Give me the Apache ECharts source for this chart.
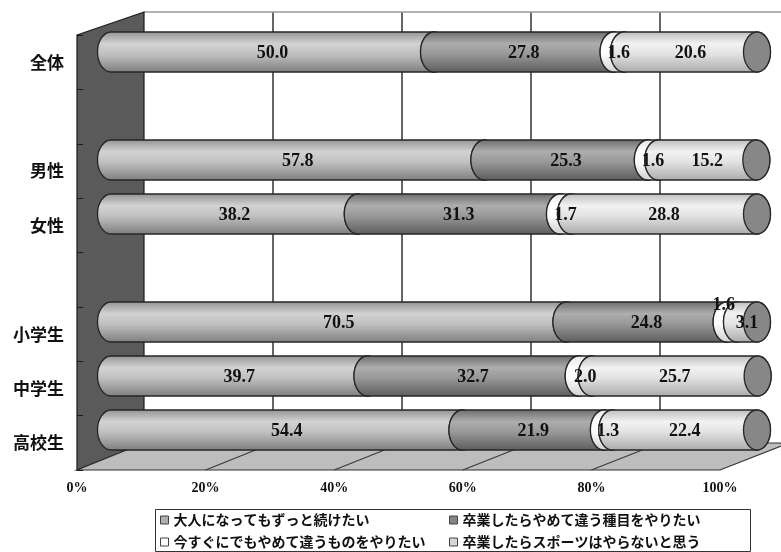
<!DOCTYPE html>
<html>
<head>
<meta charset="utf-8">
<script src="https://cdn.jsdelivr.net/npm/echarts@6/dist/echarts.min.js"></script>
<style>
  html, body { margin: 0; padding: 0; background: #ffffff; }
  #chart { width: 781px; height: 552px; }
</style>
</head>
<body>
<div id="chart"></div>
<script>
// Rows (two blank rows separate the groups)
const categories = ['全体', '', '男性', '女性', ' ', '小学生', '中学生', '高校生'];
const seriesNames = [
  '大人になってもずっと続けたい',
  '卒業したらやめて違う種目をやりたい',
  '今すぐにでもやめて違うものをやりたい',
  '卒業したらスポーツはやらないと思う'
];
// Percentages per row
const keepPlaying = [50.0, null, 57.8, 38.2, null, 70.5, 39.7, 54.4];
const switchSport = [27.8, null, 25.3, 31.3, null, 24.8, 32.7, 21.9];
const quitNow     = [1.6,  null, 1.6,  1.7,  null, 1.6,  2.0,  1.3];
const noSports    = [20.6, null, 15.2, 28.8, null, 3.1,  25.7, 22.4];
const tickStep = 20;

const W = 781, H = 552;
// Front plane (labels, floor front edge), back wall plane, and the plane the cylinders sit in
const FRONT = { left: 77, right: 720, top: 35, bottom: 470 };
const BACK  = { left: 144, right: 789, top: 12, bottom: 443 };
const BAR   = { left: 111, right: 757, top: 25, bottom: 457 };

const allSeries = [keepPlaying, switchSport, quitNow, noSports];
const shades = [
  { base: '#adadad', stops: ['#929292', '#d2d2d2', '#c0c0c0', '#7e7e7e'] },
  { base: '#858585', stops: ['#6c6c6c', '#adadad', '#989898', '#5c5c5c'] },
  { base: '#ffffff', stops: ['#e6e6e6', '#ffffff', '#fbfbfb', '#d0d0d0'] },
  { base: '#d6d6d6', stops: ['#bcbcbc', '#f2f2f2', '#e2e2e2', '#aaaaaa'] }
];
const capColor = '#878787';
const edge = '#262626';

function cylinderRenderer(shade) {
  return function (params, api) {
    const cat = api.value(0);
    const start = api.value(1);
    const len = api.value(2);
    const next = api.value(3);
    const a = api.coord([start, cat]);
    const b = api.coord([start + len, cat]);
    const ry = 20, rx = 13.5;
    const cy = a[1], x0 = a[0], x1 = b[0];
    const body = 'M' + x0 + ' ' + (cy - ry) + ' L' + x1 + ' ' + (cy - ry) +
      ' A' + rx + ' ' + ry + ' 0 0 1 ' + x1 + ' ' + (cy + ry) +
      ' L' + x0 + ' ' + (cy + ry) +
      ' A' + rx + ' ' + ry + ' 0 0 1 ' + x0 + ' ' + (cy - ry) + ' Z';
    const cap = 'M' + (x1 - rx) + ' ' + cy +
      ' A' + rx + ' ' + ry + ' 0 1 1 ' + (x1 + rx) + ' ' + cy +
      ' A' + rx + ' ' + ry + ' 0 1 1 ' + (x1 - rx) + ' ' + cy + ' Z';
    // a thin segment followed by another thin one gets its label lifted above the bar
    const crowded = len < 2.5 && next > 0 && next < 5;
    return {
      type: 'group',
      children: [
        {
          type: 'path',
          shape: { pathData: body },
          style: {
            fill: {
              type: 'linear', x: 0, y: 0, x2: 0, y2: 1,
              colorStops: [
                { offset: 0, color: shade.stops[0] },
                { offset: 0.3, color: shade.stops[1] },
                { offset: 0.55, color: shade.stops[2] },
                { offset: 1, color: shade.stops[3] }
              ]
            },
            stroke: edge, lineWidth: 1.3
          }
        },
        {
          type: 'path',
          shape: { pathData: cap },
          style: { fill: capColor, stroke: edge, lineWidth: 1.3 }
        },
        {
          type: 'text',
          z2: 100,
          style: {
            x: (x0 + x1) / 2 + (crowded ? -8 : 0),
            y: cy + (crowded ? -17 : 1),
            text: len.toFixed(1),
            fill: '#111111',
            fontSize: 18,
            fontWeight: 'bold',
            fontFamily: '"Liberation Serif", "DejaVu Serif", serif',
            align: 'center',
            verticalAlign: 'middle'
          }
        }
      ]
    };
  };
}

const series = allSeries.map(function (values, s) {
  const data = [];
  values.forEach(function (v, i) {
    if (v == null) return;
    let start = 0;
    for (let k = 0; k < s; k++) start += allSeries[k][i] || 0;
    const next = s + 1 < allSeries.length ? (allSeries[s + 1][i] || 0) : 0;
    data.push([i, start, v, next]);
  });
  return {
    type: 'custom',
    name: seriesNames[s],
    xAxisIndex: 0,
    yAxisIndex: 0,
    itemStyle: { color: shades[s].base },
    renderItem: cylinderRenderer(shades[s]),
    encode: { x: [1, 2], y: 0 },
    data: data
  };
});

// Back wall grid lines, its top edge, and floor lines joining front ticks to the back lines
const wallLines = [];
for (let v = tickStep; v <= 100; v += tickStep) {
  const fx = FRONT.left + (FRONT.right - FRONT.left) * v / 100;
  const bx = BACK.left + (BACK.right - BACK.left) * v / 100;
  wallLines.push({
    type: 'line', z: 0,
    shape: { x1: bx, y1: BACK.top, x2: bx, y2: BACK.bottom },
    style: { stroke: '#333333', lineWidth: 1.5 }
  });
  if (v < 100) {
    wallLines.push({
      type: 'line', z: 1,
      shape: { x1: fx, y1: FRONT.bottom, x2: bx, y2: BACK.bottom },
      style: { stroke: '#3a3a3a', lineWidth: 1.2 }
    });
  }
}
wallLines.push({
  type: 'line', z: 0,
  shape: { x1: BACK.left, y1: BACK.top, x2: BACK.right, y2: BACK.top },
  style: { stroke: '#9a9a9a', lineWidth: 1.5 }
});

const legendText = {
  color: '#111111', fontSize: 14, fontWeight: 'bold',
  fontFamily: '"Noto Sans CJK JP", sans-serif'
};
const legendSlots = [[160, 513], [449, 513], [160, 535], [449, 535]];
const legendOrder = [0, 1, 2, 3];
const legends = legendOrder.map(function (s, k) {
  return {
    data: [seriesNames[s]], left: legendSlots[k][0], top: legendSlots[k][1],
    padding: 0, itemGap: 0, itemWidth: 8, itemHeight: 8, icon: 'rect', selectedMode: false,
    itemStyle: { borderColor: '#444444', borderWidth: 1 }, textStyle: legendText
  };
});

const option = {
  animation: false,
  backgroundColor: '#ffffff',
  grid: [
    { left: BAR.left, right: W - BAR.right, top: BAR.top, bottom: H - BAR.bottom },
    { left: FRONT.left, right: W - FRONT.right, top: FRONT.top, bottom: H - FRONT.bottom }
  ],
  xAxis: [
    { gridIndex: 0, type: 'value', min: 0, max: 100, show: false },
    {
      gridIndex: 1, type: 'value', min: 0, max: 100, interval: tickStep, z: 3,
      axisLine: { show: false }, axisTick: { show: false }, splitLine: { show: false },
      axisLabel: {
        formatter: '{value}%', margin: 11, color: '#111111', fontSize: 14, fontWeight: 'bold',
        fontFamily: '"Liberation Serif", serif'
      }
    }
  ],
  yAxis: [
    { gridIndex: 0, type: 'category', data: categories, inverse: true, show: false },
    {
      gridIndex: 1, type: 'category', data: categories, inverse: true, z: 3,
      axisLine: { show: false },
      axisTick: { show: true, inside: true, length: 6, lineStyle: { color: '#1a1a1a' } },
      axisLabel: {
        margin: 13, color: '#111111', fontSize: 17, fontWeight: 'bold',
        fontFamily: '"Noto Sans CJK JP", sans-serif'
      }
    }
  ],
  legend: legends,
  graphic: wallLines.concat([
    {
      type: 'polygon', z: 0,
      shape: { points: [[FRONT.left, FRONT.top], [BACK.left, BACK.top], [BACK.left, BACK.bottom], [FRONT.left, FRONT.bottom]] },
      style: { fill: '#5a5a5a', stroke: '#1a1a1a', lineWidth: 1.2 }
    },
    {
      type: 'polygon', z: 0,
      shape: { points: [[FRONT.left, FRONT.bottom], [FRONT.right, FRONT.bottom], [BACK.right, BACK.bottom], [BACK.left, BACK.bottom]] },
      style: { fill: '#bdbdbd', stroke: '#333333', lineWidth: 1.2 }
    },
    {
      type: 'rect', z: 0,
      shape: { x: 155.5, y: 509.5, width: 595, height: 42 },
      style: { fill: 'none', stroke: '#333333', lineWidth: 1 }
    }
  ]),
  series: series
};

const chart = echarts.init(document.getElementById('chart'), null, { renderer: 'canvas' });
chart.setOption(option);
</script>
</body>
</html>
